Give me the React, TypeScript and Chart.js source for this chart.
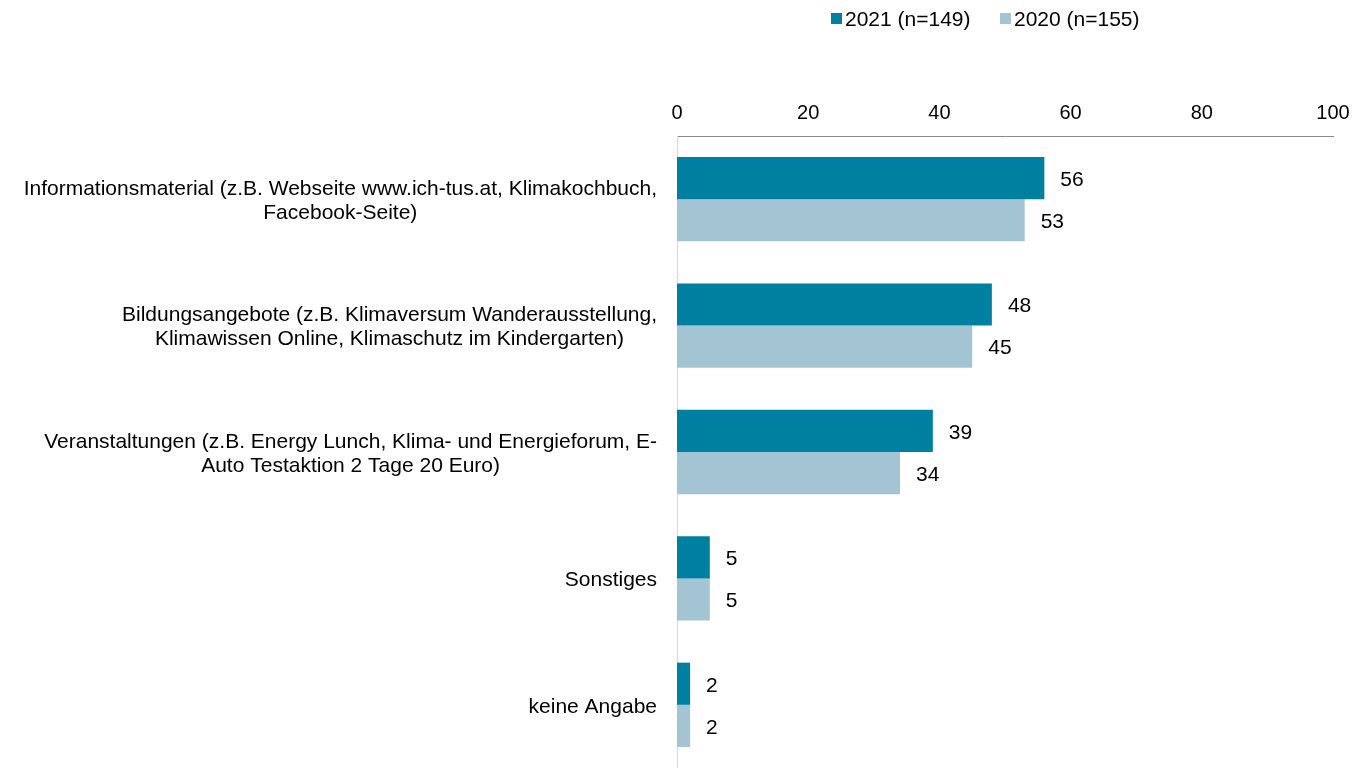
import React, { useEffect, useRef } from "react";
import { Chart, registerables } from "chart.js";

Chart.register(...registerables);

const categories: string[][] = [
  ["Informationsmaterial (z.B. Webseite www.ich-tus.at, Klimakochbuch,", "Facebook-Seite)"],
  ["Bildungsangebote (z.B. Klimaversum Wanderausstellung,", "Klimawissen Online, Klimaschutz im Kindergarten)"],
  ["Veranstaltungen (z.B. Energy Lunch, Klima- und Energieforum, E-", "Auto Testaktion 2 Tage 20 Euro)"],
  ["Sonstiges"],
  ["keine Angabe"],
];
const series2021: number[] = [56, 48, 39, 5, 2];
const series2020: number[] = [53, 45, 34, 5, 2];
const seriesLabels: string[] = ["2021 (n=149)", "2020 (n=155)"];
const xTicks: number[] = [0, 20, 40, 60, 80, 100];

const FONT = '"Liberation Sans", Arial, sans-serif';
const FS = 21;
const TICK_FS = 20;
const COL21 = "#0080A0";
const COL20 = "#A3C4D3";

const labelsPlugin = {
  id: "customLabels",
  afterDraw(chart: any) {
    const ctx = chart.ctx;
    ctx.save();
    ctx.font = `${FS}px ${FONT}`;
    ctx.fillStyle = "#000";
    ctx.textBaseline = "middle";
    // category labels
    const yScale = chart.scales.y;
    const right = chart.chartArea.left - 20;
    const lh = 24;
    categories.forEach((lines, i) => {
      const cy = yScale.getPixelForValue(i) + 2;
      let maxW = 0;
      lines.forEach((l) => (maxW = Math.max(maxW, ctx.measureText(l).width)));
      const cx = right - maxW / 2;
      ctx.textAlign = "center";
      const startY = cy - ((lines.length - 1) * lh) / 2;
      lines.forEach((l, j) => ctx.fillText(l, cx, startY + j * lh));
    });
    // value labels
    ctx.textAlign = "left";
    chart.data.datasets.forEach((ds: any, di: number) => {
      const meta = chart.getDatasetMeta(di);
      meta.data.forEach((el: any, i: number) => {
        ctx.fillText(String(ds.data[i]), el.x + 16, el.y + 2);
      });
    });
    // legend
    const items = [
      { c: COL21, t: seriesLabels[0], x: 831 },
      { c: COL20, t: seriesLabels[1], x: 1000 },
    ];
    items.forEach((it) => {
      ctx.fillStyle = it.c;
      ctx.fillRect(it.x, 13, 11, 11);
      ctx.fillStyle = "#000";
      ctx.fillText(it.t, it.x + 14, 20);
    });
    ctx.restore();
  },
};

export default function App() {
  const ref = useRef<HTMLCanvasElement>(null);
  useEffect(() => {
    document.body.style.margin = "0";
    const chart = new Chart(ref.current!, {
      type: "bar",
      data: {
        labels: categories.map((c) => c.join(" ")),
        datasets: [
          { label: seriesLabels[0], data: series2021, backgroundColor: COL21, categoryPercentage: 0.667, barPercentage: 1 },
          { label: seriesLabels[1], data: series2020, backgroundColor: COL20, categoryPercentage: 0.667, barPercentage: 1 },
        ],
      },
      options: {
        indexAxis: "y",
        animation: false,
        responsive: false,
        layout: { padding: { left: 677, right: 21, top: 0, bottom: 0 } },
        plugins: { legend: { display: false }, tooltip: { enabled: false } },
        scales: {
          x: {
            position: "top",
            min: 0,
            max: 100,
            afterBuildTicks: (s: any) => {
              s.ticks = xTicks.map((v) => ({ value: v }));
            },
            grid: { display: false },
            border: { display: true, color: "#898989", width: 1 },
            ticks: { color: "#000", font: { family: FONT, size: TICK_FS }, padding: 3, maxRotation: 0 },
            afterFit: (s: any) => {
              s.height = 136;
            },
          },
          y: {
            ticks: { display: false },
            grid: { display: false },
            border: { display: true, color: "#D9D9D9", width: 1 },
            afterFit: (s: any) => {
              s.width = 0;
            },
          },
        },
      },
      plugins: [labelsPlugin],
    } as any);
    return () => chart.destroy();
  }, []);
  return (
    <div style={{ position: "absolute", left: 0, top: 0, width: 1354, height: 768 }}>
      <canvas ref={ref} width={1354} height={768} style={{ display: "block" }} />
    </div>
  );
}
